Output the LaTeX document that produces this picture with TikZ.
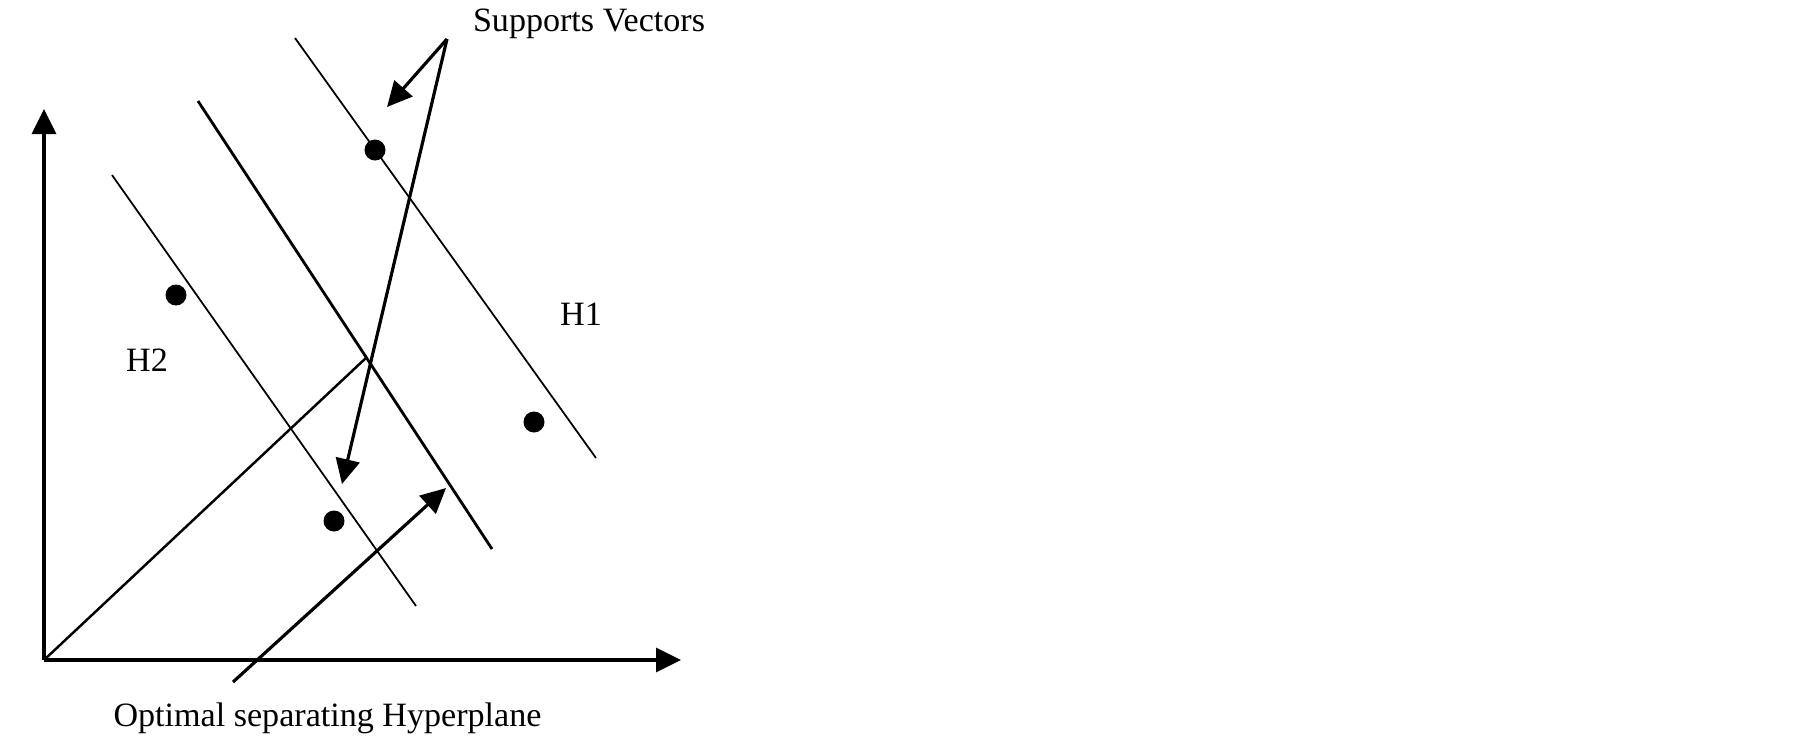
\documentclass[tikz,border=0pt]{standalone}
\usepackage{fontspec}
\setmainfont{Liberation Serif}
\usetikzlibrary{arrows.meta}
\begin{document}
\begin{tikzpicture}[
        x=0.1mm, y=-0.1mm,
        vec/.style={circle, fill, inner sep=0pt, minimum size=2.1mm},
        margin/.style={line width=0.5pt},
        plane/.style={line width=0.8pt},
        arr/.style={line width=0.9pt, -{Triangle[length=2.5mm, width=2.4mm]}},
        lbl/.style={font=\fontsize{9.7}{11}\selectfont, inner sep=0pt, anchor=base}
    ]
    \useasboundingbox (0,0) rectangle (1805,737);

    % axes
    \coordinate (o) at (44,660);
    \coordinate (ytop) at (44,109);
    \coordinate (xend) at (681,660);
    \draw[arr] (o) -- (ytop);
    \draw[arr] (o) -- (xend);

    % H2, separating plane and H1
    \coordinate (h2a) at (112,175);  \coordinate (h2b) at (416,606);
    \coordinate (pa) at (198,101);   \coordinate (pb) at (492,549);
    \coordinate (h1a) at (295,38);   \coordinate (h1b) at (596,458);
    \draw[margin] (h2a) -- (h2b);
    \draw[plane] (pa) -- (pb);
    \draw[margin] (h1a) -- (h1b);
    \coordinate (foot) at (367,357);
    \draw[line width=0.7pt] (o) -- (foot);

    % data points
    \node[vec] (v1) at (375,150) {};
    \node[vec] (v2) at (176,295) {};
    \node[vec] (v3) at (534,422) {};
    \node[vec] (v4) at (334,521) {};

    % labels
    \node[lbl] (sv) at (589,31.5) {Supports Vectors};
    \node[lbl] (osh) at (327.5,726) {Optimal separating Hyperplane};
    \node[lbl] (hone) at (581,325) {H1};
    \node[lbl] (htwo) at (147,371) {H2};

    % pointers
    \coordinate (apex) at (447,39);
    \coordinate (sv1) at (387,107);
    \coordinate (sv2) at (342,484);
    \draw[arr] (apex) -- (sv1);
    \draw[arr] (apex) -- (sv2);
    \coordinate (tail) at (233,682);
    \coordinate (head) at (446,488);
    \draw[arr] (tail) -- (head);
\end{tikzpicture}
\end{document}
